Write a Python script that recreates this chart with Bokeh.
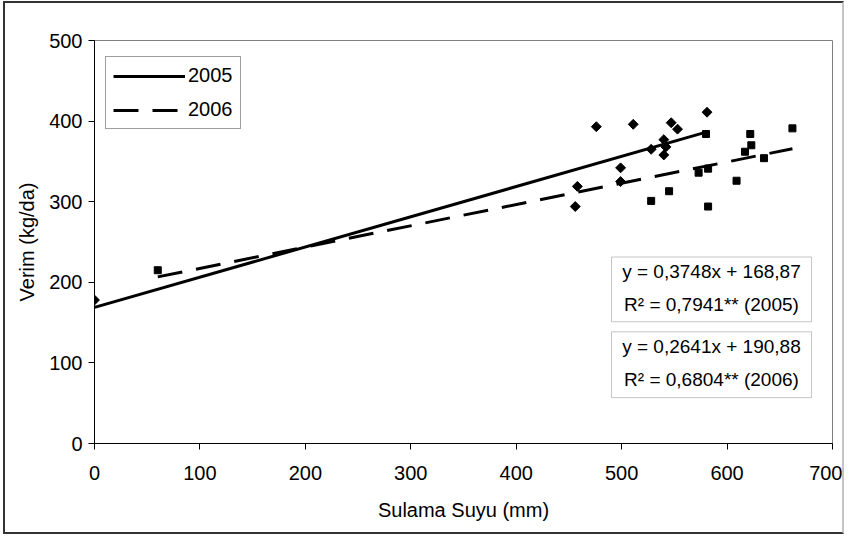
import numpy as np
from bokeh.plotting import figure
from bokeh.models import Range1d, Legend, LegendItem, Label, BoxAnnotation, FixedTicker
from bokeh.embed import file_html
from bokeh.resources import INLINE

# ---- data ----
x2005 = [0, 456, 458, 476, 499, 499, 511, 528, 540, 540, 542, 547, 553, 581]
y2005 = [178, 294, 319, 393, 342, 325, 396, 365, 377, 358, 368, 398, 390, 411]
x2006 = [60, 528, 545, 573, 580, 582, 582, 609, 617, 622, 623, 635, 662]
y2006 = [215, 301, 313, 336, 384, 341, 294, 326, 362, 384, 370, 354, 391]

slope2005, icpt2005 = 0.3748, 168.87
slope2006, icpt2006 = 0.2641, 190.88

eq2005 = ["y = 0,3748x + 168,87", "R\u00b2 = 0,7941** (2005)"]
eq2006 = ["y = 0,2641x + 190,88", "R\u00b2 = 0,6804** (2006)"]

series_names = ["2005", "2006"]
x_ticks = [0, 100, 200, 300, 400, 500, 600, 700]
y_ticks = [0, 100, 200, 300, 400, 500]

FONT = "Liberation Sans"
FS = "20px"

p = figure(width=841, height=533, output_backend="svg", toolbar_location=None,
           x_range=Range1d(0, 700), y_range=Range1d(0, 500),
           min_border_left=89, min_border_right=14, min_border_top=37, min_border_bottom=93)
p.margin = (1, 0, 0, 3)
p.styles = {"border-left": "2px solid #333333", "border-top": "2px solid #333333",
            "border-bottom": "2px solid #333333", "border-right": "2px solid #c4c4c4"}
p.background_fill_color = "white"
p.border_fill_color = "white"
p.outline_line_color = "#808080"
p.outline_line_width = 1
p.xgrid.visible = False
p.ygrid.visible = False

for ax in (p.xaxis[0], p.yaxis[0]):
    ax.axis_line_color = "black"
    ax.axis_line_width = 1
    ax.major_tick_line_color = "black"
    ax.major_tick_out = 6
    ax.major_tick_in = 0
    ax.minor_tick_line_color = None
    ax.major_label_text_font = FONT
    ax.major_label_text_font_size = FS
    ax.major_label_text_color = "black"
    ax.axis_label_text_font = FONT
    ax.axis_label_text_font_size = FS
    ax.axis_label_text_font_style = "normal"
    ax.axis_label_text_color = "black"

p.xaxis.ticker = FixedTicker(ticks=x_ticks)
p.yaxis.ticker = FixedTicker(ticks=y_ticks)
p.xaxis.axis_label = "Sulama Suyu (mm)"
p.yaxis.axis_label = "Verim (kg/da)"
p.xaxis.major_label_standoff = 16
p.xaxis.axis_label_standoff = 16
p.yaxis.major_label_standoff = 6
p.yaxis.axis_label_standoff = 8

# trend lines
tx05 = np.array([min(x2005), max(x2005)])
tx06 = np.array([min(x2006), max(x2006)])
r05 = p.line(tx05, slope2005 * tx05 + icpt2005, line_color="black", line_width=3)
r06 = p.line(tx06, slope2006 * tx06 + icpt2006, line_color="black", line_width=3,
             line_dash="25 14")

# points
p.scatter(x2005, y2005, marker="square", angle=np.pi / 4, size=7,
          fill_color="black", line_color="black")
p.scatter(x2006, y2006, marker="square", size=7,
          fill_color="black", line_color="black")

legend = Legend(items=[LegendItem(label=series_names[0], renderers=[r05]),
                       LegendItem(label=series_names[1], renderers=[r06])],
                location=(11, 314), orientation="vertical")
legend.border_line_color = "#404040"
legend.border_line_width = 1
legend.background_fill_color = "white"
legend.background_fill_alpha = 1
legend.label_text_font = FONT
legend.label_text_font_size = FS
legend.label_text_color = "black"
legend.glyph_width = 72
legend.glyph_height = 22
legend.label_height = 22
legend.label_standoff = 3
legend.padding = 7
legend.spacing = 11
legend.margin = 0
p.add_layout(legend, "center")

# equation boxes
for (top, bottom, lines, ys) in [(231.4, 151.0, eq2005, (212.9, 172.0)),
                                 (138.6, 56.9, eq2006, (120.0, 79.2))]:
    p.add_layout(BoxAnnotation(left=490.4, right=680.1, top=top, bottom=bottom,
                               fill_color="white", fill_alpha=1,
                               line_color="#404040", line_width=1))
    for txt, yy in zip(lines, ys):
        p.add_layout(Label(x=585.2, y=yy, text=txt, text_align="center",
                           text_baseline="middle", text_font=FONT,
                           text_font_size="19px", text_color="black"))

open("out.html", "w").write(file_html(p, INLINE))
